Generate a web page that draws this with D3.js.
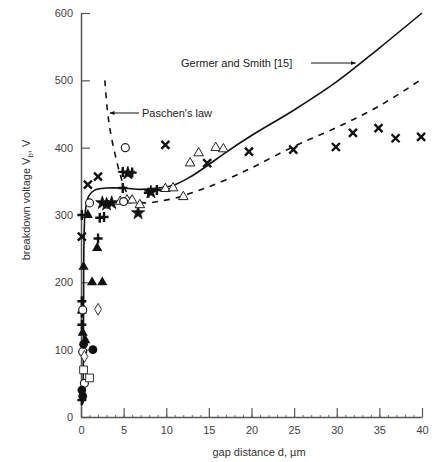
<!DOCTYPE html>
<html>
  <head>
    <meta charset="utf-8">
    <title>Breakdown voltage vs gap distance</title>
    <script src="https://d3js.org/d3.v7.min.js"></script>
    <style>
      body { margin: 0; background: #fff; }
      svg text { font-family: "Liberation Sans", Arial, Helvetica, sans-serif; }
    </style>
  </head>
  <body>
    <div id="chart"></div>
    <script>
      // Tick values
      var xTicks = [0, 5, 10, 15, 20, 25, 30, 35, 40];
      var yTicks = [0, 100, 200, 300, 400, 500, 600];

      // Curves [d (um), V]
      var germerSmith = [[0.25,20],[0.3,150],[0.35,260],[0.5,305],[0.9,328],[1.6,337],[3,340],[5,340],
        [7,338],[9,340],[11,345],[13,358],[15,375],[17,393],[20,418],[25,456],[30,498],[35,548],[40,600]];
      var paschen = [[2.8,500],[3.1,455],[3.5,420],[4,390],[4.6,360],[5.3,335],[6.2,322],[7.5,318],
        [9,320],[11,325],[13,333],[15,342],[18,358],[20,370],[25,402],[30,430],[35,462],[40,502]];

      // Measured points, one array per marker type
      var crossPts = [[0.1,268],[0.8,345],[2.0,357],[9.9,404],[14.8,377],[19.7,394],[24.9,397],
        [29.9,401],[31.9,422],[34.9,429],[36.9,414],[39.9,416]];
      var plusPts = [[4.9,364],[6.0,363],[4.9,340],[7.9,333],[8.9,337],[2.2,296],[2.7,297],
        [2.0,265],[0.1,172],[0.1,155],[0.1,137],[0.1,25],[0.1,300]];
      var starPts = [[2.5,318],[3.0,316],[3.6,318],[5.5,362],[6.7,303],[8.2,334]];
      var triOpenPts = [[13.8,392],[12.8,377],[15.8,400],[16.7,398],[9.9,339],[10.8,340],
        [12.0,327],[6.9,315],[4.6,320],[5.4,322],[6.0,322]];
      var triFillPts = [[0.8,300],[0.3,223],[1.3,200],[2.5,200],[1.9,251],[0.2,125],[0.5,114]];
      var circOpenPts = [[5.2,400],[1.0,318],[0.2,159],[0.2,97],[0.4,50],[5.0,320]];
      var circFillPts = [[1.4,100],[0.1,40],[0.2,31],[0.3,108]];
      var squarePts = [[0.3,70],[1.0,58]];
      var diamondPts = [[2.0,160],[0.4,90]];

      var W = 432, H = 462;
      var svg = d3.select("#chart").append("svg")
        .attr("width", W).attr("height", H);

      var x = d3.scaleLinear().domain([0, 40]).range([81, 422]);
      var y = d3.scaleLinear().domain([0, 600]).range([417, 13]);

      // minor ticks on x
      svg.append("g")
        .attr("transform", "translate(0," + y(0) + ")")
        .call(d3.axisBottom(x).tickValues(d3.range(0, 41, 1)).tickSize(-2).tickFormat(""))
        .call(function(g) { g.select(".domain").remove(); })
        .selectAll("line").attr("stroke", "#666");

      // X axis
      var gx = svg.append("g")
        .attr("transform", "translate(0," + y(0) + ")")
        .call(d3.axisBottom(x).tickValues(xTicks).tickSizeInner(-9).tickSizeOuter(0).tickPadding(9));

      // Y axis
      var gy = svg.append("g")
        .attr("transform", "translate(" + x(0) + ",0)")
        .call(d3.axisLeft(y).tickValues(yTicks).tickSizeInner(-9).tickSizeOuter(0).tickPadding(8));

      [gx, gy].forEach(function(g) {
        g.select(".domain").attr("stroke", "#555").attr("stroke-width", 1.5);
        g.selectAll(".tick line").attr("stroke", "#555").attr("stroke-width", 1.2);
        g.selectAll(".tick text").attr("fill", "#444").style("font-size", "11px");
      });

      // Axis titles
      svg.append("text")
        .attr("x", 259).attr("y", 456)
        .attr("text-anchor", "middle")
        .style("font-size", "11px").attr("fill", "#333")
        .text("gap distance d, \u00b5m");

      var yl = svg.append("text")
        .attr("transform", "translate(30,200) rotate(-90)")
        .attr("text-anchor", "middle")
        .style("font-size", "11px").attr("fill", "#333");
      yl.append("tspan").text("breakdown voltage V");
      yl.append("tspan").attr("dy", 3).style("font-size", "8px").text("b");
      yl.append("tspan").attr("dy", -3).text(", V");

      // Curves
      var line = d3.line()
        .x(function(d) { return x(d[0]); })
        .y(function(d) { return y(d[1]); })
        .curve(d3.curveCatmullRom.alpha(0.5));

      svg.append("path").datum(germerSmith)
        .attr("d", line).attr("fill", "none")
        .attr("stroke", "#111").attr("stroke-width", 1.6);

      svg.append("path").datum(paschen)
        .attr("d", line).attr("fill", "none")
        .attr("stroke", "#111").attr("stroke-width", 1.6)
        .attr("stroke-dasharray", "6,6");

      // Markers
      var g = svg.append("g");
      function put(data) {
        return g.append("g").selectAll("path").data(data).enter().append("path")
          .attr("transform", function(d) { return "translate(" + x(d[0]) + "," + y(d[1]) + ")"; });
      }

      put(crossPts).attr("d", "M-4,-4L4,4M-4,4L4,-4")
        .attr("stroke", "#111").attr("stroke-width", 2.4).attr("fill", "none");
      put(plusPts).attr("d", "M-4.5,0L4.5,0M0,-5L0,5")
        .attr("stroke", "#111").attr("stroke-width", 2.4).attr("fill", "none");
      put(starPts).attr("d", d3.symbol().type(d3.symbolStar).size(55))
        .attr("fill", "#111").attr("stroke", "#111").attr("stroke-width", 0.8);
      put(triOpenPts).attr("d", d3.symbol().type(d3.symbolTriangle).size(40))
        .attr("fill", "#fff").attr("stroke", "#222").attr("stroke-width", 1);
      put(triFillPts).attr("d", d3.symbol().type(d3.symbolTriangle).size(45))
        .attr("fill", "#111");
      put(circOpenPts).attr("d", d3.symbol().type(d3.symbolCircle).size(50))
        .attr("fill", "#fff").attr("stroke", "#222").attr("stroke-width", 1.2);
      put(circFillPts).attr("d", d3.symbol().type(d3.symbolCircle).size(60))
        .attr("fill", "#111");
      put(squarePts).attr("d", d3.symbol().type(d3.symbolSquare).size(60))
        .attr("fill", "#fff").attr("stroke", "#333").attr("stroke-width", 1);
      put(diamondPts).attr("d", d3.symbol().type(d3.symbolDiamond).size(40))
        .attr("fill", "#fff").attr("stroke", "#333").attr("stroke-width", 1);

      // Annotations
      svg.append("defs").append("marker")
        .attr("id", "ah").attr("viewBox", "0 0 10 10")
        .attr("refX", 9).attr("refY", 5)
        .attr("markerWidth", 5).attr("markerHeight", 5)
        .attr("orient", "auto")
        .append("path").attr("d", "M0,1L10,5L0,9z").attr("fill", "#111");

      svg.append("text").attr("x", 181).attr("y", 67)
        .style("font-size", "11px").attr("fill", "#222")
        .text("Germer and Smith [15]");
      svg.append("line")
        .attr("x1", 311).attr("y1", 63).attr("x2", x(32.2)).attr("y2", 63)
        .attr("stroke", "#111").attr("stroke-width", 1)
        .attr("marker-end", "url(#ah)");

      svg.append("text").attr("x", 142).attr("y", 117)
        .style("font-size", "11px").attr("fill", "#222")
        .text("Paschen's law");
      svg.append("line")
        .attr("x1", 139).attr("y1", 113).attr("x2", 110).attr("y2", 113)
        .attr("stroke", "#111").attr("stroke-width", 1)
        .attr("marker-end", "url(#ah)");
    </script>
  </body>
</html>
